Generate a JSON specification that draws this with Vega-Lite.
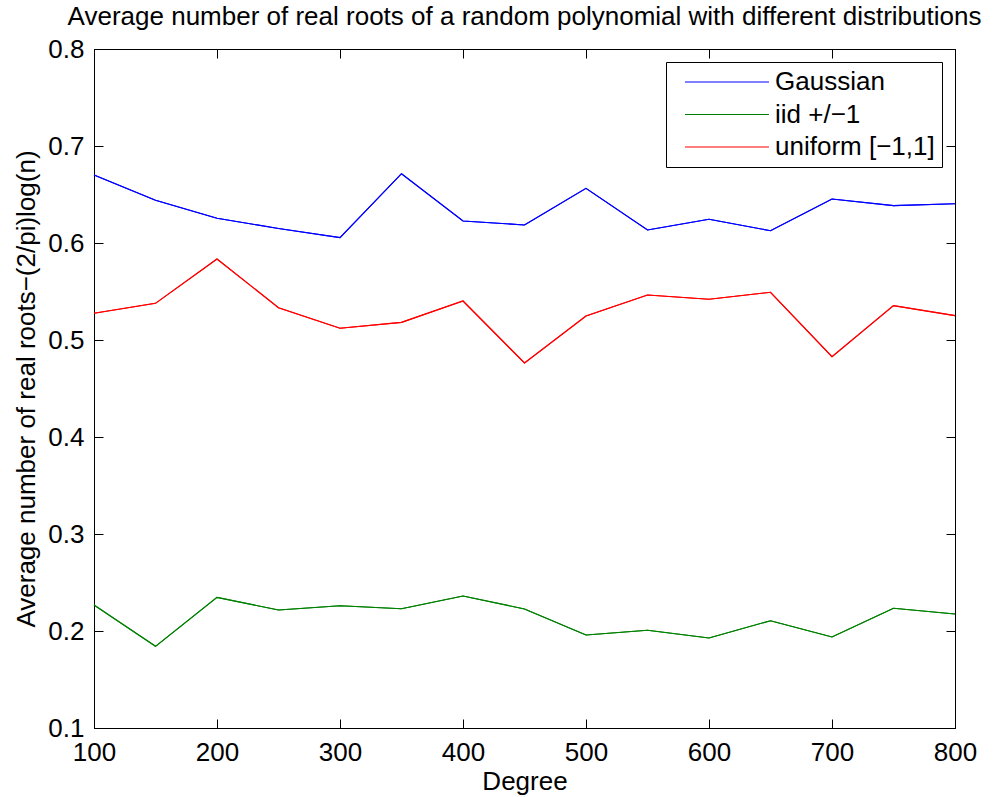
{
  "$schema": "https://vega.github.io/schema/vega-lite/v6.json",
  "width": 861,
  "height": 679,
  "autosize": "none",
  "padding": {"left": 94, "top": 49, "right": 41, "bottom": 69},
  "background": "white",
  "config": {
    "font": "Liberation Sans",
    "view": {"stroke": "black", "strokeWidth": 1},
    "axis": {"grid": false, "domainColor": "black", "tickColor": "black", "labelColor": "black", "titleColor": "black", "labelFontSize": 26, "titleFontSize": 26, "titleFontWeight": "normal", "tickSize": -9, "labelFont": "Liberation Sans", "titleFont": "Liberation Sans"}
  },
  "title": {"text": "Average number of real roots of a random polynomial with different distributions", "fontSize": 26, "fontWeight": "normal", "font": "Liberation Sans", "color": "black", "anchor": "middle", "offset": -15, "baseline": "alphabetic"},
  "data": {"values": [
    {"d": 100, "s": "Gaussian", "v": 0.670}, {"d": 150, "s": "Gaussian", "v": 0.644}, {"d": 200, "s": "Gaussian", "v": 0.6255}, {"d": 250, "s": "Gaussian", "v": 0.615}, {"d": 300, "s": "Gaussian", "v": 0.6055}, {"d": 350, "s": "Gaussian", "v": 0.6714}, {"d": 400, "s": "Gaussian", "v": 0.6227}, {"d": 450, "s": "Gaussian", "v": 0.6186}, {"d": 500, "s": "Gaussian", "v": 0.6564}, {"d": 550, "s": "Gaussian", "v": 0.6134}, {"d": 600, "s": "Gaussian", "v": 0.6244}, {"d": 650, "s": "Gaussian", "v": 0.6127}, {"d": 700, "s": "Gaussian", "v": 0.6454}, {"d": 750, "s": "Gaussian", "v": 0.6385}, {"d": 800, "s": "Gaussian", "v": 0.6405},
    {"d": 100, "s": "iid +/−1", "v": 0.2268}, {"d": 150, "s": "iid +/−1", "v": 0.1842}, {"d": 200, "s": "iid +/−1", "v": 0.2347}, {"d": 250, "s": "iid +/−1", "v": 0.2216}, {"d": 300, "s": "iid +/−1", "v": 0.2261}, {"d": 350, "s": "iid +/−1", "v": 0.2230}, {"d": 400, "s": "iid +/−1", "v": 0.2361}, {"d": 450, "s": "iid +/−1", "v": 0.2227}, {"d": 500, "s": "iid +/−1", "v": 0.1959}, {"d": 550, "s": "iid +/−1", "v": 0.2007}, {"d": 600, "s": "iid +/−1", "v": 0.1928}, {"d": 650, "s": "iid +/−1", "v": 0.2106}, {"d": 700, "s": "iid +/−1", "v": 0.1938}, {"d": 750, "s": "iid +/−1", "v": 0.2234}, {"d": 800, "s": "iid +/−1", "v": 0.2175},
    {"d": 100, "s": "uniform [−1,1]", "v": 0.5275}, {"d": 150, "s": "uniform [−1,1]", "v": 0.5378}, {"d": 200, "s": "uniform [−1,1]", "v": 0.5835}, {"d": 250, "s": "uniform [−1,1]", "v": 0.5333}, {"d": 300, "s": "uniform [−1,1]", "v": 0.5121}, {"d": 350, "s": "uniform [−1,1]", "v": 0.5182}, {"d": 400, "s": "uniform [−1,1]", "v": 0.5402}, {"d": 450, "s": "uniform [−1,1]", "v": 0.4763}, {"d": 500, "s": "uniform [−1,1]", "v": 0.5247}, {"d": 550, "s": "uniform [−1,1]", "v": 0.5464}, {"d": 600, "s": "uniform [−1,1]", "v": 0.5420}, {"d": 650, "s": "uniform [−1,1]", "v": 0.5492}, {"d": 700, "s": "uniform [−1,1]", "v": 0.4828}, {"d": 750, "s": "uniform [−1,1]", "v": 0.5354}, {"d": 800, "s": "uniform [−1,1]", "v": 0.5251}
  ]},
  "layer": [
    {
      "mark": {"type": "line", "strokeWidth": 1.1},
      "encoding": {
        "x": {"field": "d", "type": "quantitative", "scale": {"domain": [100, 800], "nice": false, "zero": false}, "axis": {"values": [100, 200, 300, 400, 500, 600, 700, 800], "title": "Degree", "labelPadding": 20, "titlePadding": 3, "labelFlush": false, "labelOverlap": false}},
        "y": {"field": "v", "type": "quantitative", "scale": {"domain": [0.1, 0.8], "nice": false, "zero": false}, "axis": {"values": [0.1, 0.2, 0.3, 0.4, 0.5, 0.6, 0.7, 0.8], "format": ".1f", "title": "Average number of real roots−(2/pi)log(n)", "labelPadding": 19, "titlePadding": 8, "labelOverlap": false}},
        "color": {"field": "s", "type": "nominal", "scale": {"domain": ["Gaussian", "iid +/−1", "uniform [−1,1]"], "range": ["#0000ff", "#008000", "#ff0000"]},
          "legend": {"title": null, "orient": "none", "legendX": 572, "legendY": 13, "symbolType": "M-4,0H4", "symbolSize": 441, "symbolStrokeWidth": 1.1, "labelFontSize": 26, "labelFont": "Liberation Sans", "labelColor": "black", "labelOffset": 35, "padding": 7, "symbolOffset": 41, "strokeColor": "black", "fillColor": "white", "rowPadding": 6.5, "labelLimit": 400}}
      }
    },
    {
      "mark": {"type": "line", "strokeWidth": 1.1},
      "encoding": {
        "x": {"field": "d", "type": "quantitative", "scale": {"domain": [100, 800], "nice": false, "zero": false}, "axis": {"orient": "top", "values": [100, 200, 300, 400, 500, 600, 700, 800], "labels": false, "title": null}},
        "y": {"field": "v", "type": "quantitative", "scale": {"domain": [0.1, 0.8], "nice": false, "zero": false}, "axis": {"orient": "right", "values": [0.1, 0.2, 0.3, 0.4, 0.5, 0.6, 0.7, 0.8], "labels": false, "title": null}},
        "color": {"field": "s", "type": "nominal", "legend": null}
      }
    }
  ],
  "resolve": {"axis": {"x": "independent", "y": "independent"}}
}
